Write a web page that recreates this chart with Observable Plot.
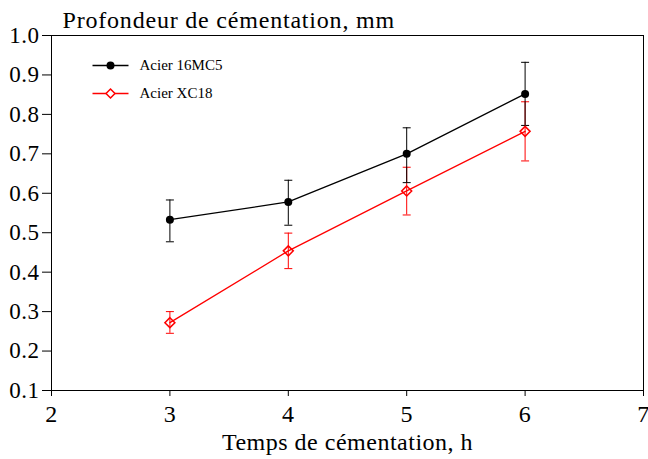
<!DOCTYPE html>
<html>
<head>
<meta charset="utf-8">
<script src="https://cdn.jsdelivr.net/npm/d3@7"></script>
<script src="https://cdn.jsdelivr.net/npm/@observablehq/plot@0.6"></script>
<style>
  html, body { margin: 0; padding: 0; background: #fff; }
  #chart svg { display: block; }
  #chart svg text { font-family: 'Liberation Serif', 'Times New Roman', serif; }
  #chart svg g[aria-label="y-axis tick label"] text,
  #chart svg g[aria-label="x-axis tick label"] text,
  #chart svg g[aria-label="x-axis label"] text { letter-spacing: 0.5px; }
  #chart svg g.title text { letter-spacing: 0.8px; }
</style>
</head>
<body>
<div id="chart"></div>
<script>
// Data
const hours = [3, 4, 5, 6];
const mc5 = [0.533, 0.578, 0.700, 0.852];
const mc5Lo = [0.477, 0.519, 0.627, 0.772];
const mc5Hi = [0.583, 0.633, 0.766, 0.932];
const xc18 = [0.272, 0.454, 0.606, 0.757];
const xc18Lo = [0.245, 0.409, 0.545, 0.682];
const xc18Hi = [0.300, 0.499, 0.666, 0.832];
const xTicks = [2, 3, 4, 5, 6, 7];
const yTicks = [0.1, 0.2, 0.3, 0.4, 0.5, 0.6, 0.7, 0.8, 0.9, 1.0];
const seriesNames = ["Acier 16MC5", "Acier XC18"];
const seriesColors = ["#000000", "#ff0000"];
const titleText = "Profondeur de cémentation, mm";
const xLabel = "Temps de cémentation, h";

const rows = (vals, lo, hi) => hours.map((h, i) => ({h, v: vals[i], lo: lo[i], hi: hi[i]}));
const s1 = rows(mc5, mc5Lo, mc5Hi);
const s2 = rows(xc18, xc18Lo, xc18Hi);

// custom symbol: horizontal segment (for error-bar caps and legend lines)
const hbar = {draw(ctx, size) { const r = Math.sqrt(size / Math.PI); ctx.moveTo(-r, 0); ctx.lineTo(r, 0); }};

const font = "'Liberation Serif', 'Times New Roman', serif";

function errorMarks(data, color) {
  return [
    Plot.ruleX(data, {x: "h", y1: "lo", y2: "hi", stroke: color, strokeWidth: 1}),
    Plot.dot(data, {x: "h", y: "lo", symbol: hbar, r: 4, stroke: color, strokeWidth: 1, fill: "none"}),
    Plot.dot(data, {x: "h", y: "hi", symbol: hbar, r: 4, stroke: color, strokeWidth: 1, fill: "none"})
  ];
}

const chart = Plot.plot({
  width: 648,
  height: 459,
  marginLeft: 51,
  marginRight: 5,
  marginTop: 35,
  marginBottom: 69,
  style: {fontFamily: font, fontSize: "23px", color: "#000", background: "#fff"},
  x: {domain: [2, 7]},
  y: {domain: [0.1, 1.0]},
  marks: [
    Plot.frame({stroke: "#000", strokeWidth: 1}),
    Plot.axisY({ticks: yTicks, tickFormat: d3.format(".1f"), tickSize: 9, tickPadding: 3, label: null, fontSize: 23, fontFamily: font, fontVariant: "normal"}),
    Plot.axisX({ticks: xTicks, tickFormat: d3.format("d"), tickSize: 6, tickPadding: 8, label: xLabel, labelAnchor: "center", labelArrow: "none", labelOffset: 59, fontSize: 24, fontFamily: font, fontVariant: "normal"}),
    ...errorMarks(s2, seriesColors[1]),
    ...errorMarks(s1, seriesColors[0]),
    Plot.line(s2, {x: "h", y: "v", stroke: seriesColors[1], strokeWidth: 1.3}),
    Plot.line(s1, {x: "h", y: "v", stroke: seriesColors[0], strokeWidth: 1.3}),
    Plot.dot(s2, {x: "h", y: "v", symbol: "diamond2", r: 4.5, stroke: seriesColors[1], strokeWidth: 1.5, fill: "none"}),
    Plot.dot(s1, {x: "h", y: "v", symbol: "circle", r: 4, fill: seriesColors[0], stroke: "none"}),
    // legend
    Plot.dot([seriesNames[0]], {frameAnchor: "top-left", dx: 59, dy: 30, symbol: hbar, r: 18, stroke: seriesColors[0], strokeWidth: 1.3}),
    Plot.dot([seriesNames[0]], {frameAnchor: "top-left", dx: 59, dy: 30, symbol: "circle", r: 4, fill: seriesColors[0]}),
    Plot.text([seriesNames[0]], {frameAnchor: "top-left", dx: 88, dy: 30, text: d => d, textAnchor: "start", lineAnchor: "middle", fontSize: 15, fontFamily: font}),
    Plot.dot([seriesNames[1]], {frameAnchor: "top-left", dx: 59, dy: 58, symbol: hbar, r: 18, stroke: seriesColors[1], strokeWidth: 1.3}),
    Plot.dot([seriesNames[1]], {frameAnchor: "top-left", dx: 59, dy: 58, symbol: "diamond2", r: 4, stroke: seriesColors[1], strokeWidth: 1.5, fill: "#fff"}),
    Plot.text([seriesNames[1]], {frameAnchor: "top-left", dx: 88, dy: 58, text: d => d, textAnchor: "start", lineAnchor: "middle", fontSize: 15, fontFamily: font}),
    // title
    Plot.text([titleText], {frameAnchor: "top-left", dx: 11, dy: -8, text: d => d, textAnchor: "start", lineAnchor: "bottom", fontSize: 24, fontFamily: font, className: "title"})
  ]
});
document.getElementById("chart").appendChild(chart);
</script>
</body>
</html>
